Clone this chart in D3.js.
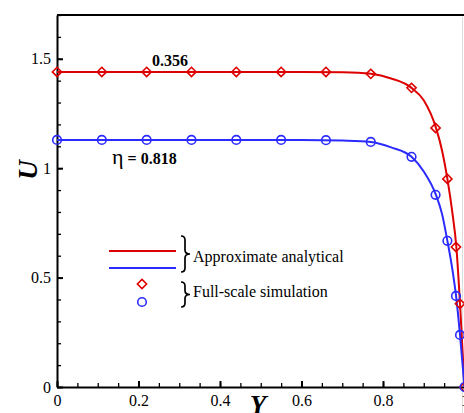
<!DOCTYPE html>
<html lang="en">
<head>
<meta charset="UTF-8">
<title>U vs Y</title>
<script src="https://d3js.org/d3.v7.min.js"></script>
<style>
    body { margin: 0; background: #fff; }
    svg { display: block; font-family: "Liberation Serif", "Times New Roman", serif; }
    .axis path, .axis line { stroke: #000; stroke-width: 2; }
    .axis text { font-size: 16px; fill: #000; font-family: "Liberation Serif", serif; }
    .minor line { stroke-width: 1.3; }
</style>
</head>
<body>
<svg width="464" height="413"></svg>
<script>
    // simulation sample positions (shared by both cases)
    const simY = [0, 0.11, 0.22, 0.33, 0.44, 0.55, 0.66, 0.77, 0.87, 0.929, 0.958, 0.979, 0.989, 1.0];
    const redSim  = [1.44, 1.44, 1.44, 1.44, 1.44, 1.44, 1.44, 1.431, 1.367, 1.184, 0.951, 0.64, 0.38, 0];
    const blueSim = [1.129, 1.129, 1.129, 1.129, 1.129, 1.129, 1.128, 1.12, 1.052, 0.878, 0.668, 0.416, 0.238, 0];

    // analytical curves
    const curveY    = [0, 0.2, 0.4, 0.6, 0.7, 0.77, 0.82, 0.87, 0.9, 0.93, 0.945, 0.958, 0.97, 0.98, 0.989, 1.0];
    const redCurve  = [1.44, 1.44, 1.44, 1.44, 1.438, 1.431, 1.41, 1.367, 1.31, 1.184, 1.08, 0.951, 0.80, 0.64, 0.38, 0];
    const blueCurve = [1.129, 1.129, 1.129, 1.129, 1.126, 1.12, 1.095, 1.052, 0.985, 0.878, 0.79, 0.668, 0.54, 0.405, 0.238, 0];

    const xMajor = [0, 0.2, 0.4, 0.6, 0.8, 1.0];
    const yMajor = [0, 0.5, 1.0, 1.5];

    const red = "#dd0000", blue = "#2b2bff";
    const svg = d3.select("svg");
    const x = d3.scaleLinear().domain([0, 1]).range([57, 464.5]);
    const y = d3.scaleLinear().domain([0, 1.7]).range([387, 15]);

    // frame
    svg.append("line").attr("x1", 57).attr("x2", 464).attr("y1", 15).attr("y2", 15)
        .attr("stroke", "#000").attr("stroke-width", 2);
    svg.append("line").attr("x1", 462.5).attr("x2", 462.5).attr("y1", 17).attr("y2", 413)
        .attr("stroke", "#ddd").attr("stroke-width", 1);

    // minor ticks
    svg.append("g").attr("class", "axis minor").attr("transform", "translate(0,387)")
        .call(d3.axisBottom(x).tickValues(d3.range(0, 21).map(i => i * 0.05)).tickSize(-4).tickFormat(""))
        .select(".domain").remove();
    svg.append("g").attr("class", "axis minor").attr("transform", "translate(57,0)")
        .call(d3.axisLeft(y).tickValues(d3.range(0, 18).map(i => i * 0.1)).tickSize(-4).tickFormat(""))
        .select(".domain").remove();

    // major axes
    svg.append("g").attr("class", "axis").attr("transform", "translate(0,387)")
        .call(d3.axisBottom(x).tickValues(xMajor).tickSize(-6).tickSizeOuter(0).tickPadding(8).tickFormat(d3.format("")));
    svg.append("g").attr("class", "axis").attr("transform", "translate(57,0)")
        .call(d3.axisLeft(y).tickValues(yMajor).tickSize(-6).tickSizeOuter(0).tickPadding(6).tickFormat(d3.format("")));

    // curves
    const line = d3.line().x(d => x(d[0])).y(d => y(d[1])).curve(d3.curveMonotoneX);
    [[redCurve, red], [blueCurve, blue]].forEach(([vals, c]) => {
        svg.append("path").datum(curveY.map((v, i) => [v, vals[i]]))
            .attr("d", line).attr("fill", "none").attr("stroke", c).attr("stroke-width", 2);
    });

    // markers
    const diamond = d3.symbol().type(d3.symbolDiamond2).size(54);
    svg.append("g").selectAll("path").data(simY.map((v, i) => [v, redSim[i]])).join("path")
        .attr("d", diamond).attr("transform", d => `translate(${x(d[0])},${y(d[1])})`)
        .attr("fill", "none").attr("stroke", red).attr("stroke-width", 1.6);
    svg.append("g").selectAll("circle").data(simY.map((v, i) => [v, blueSim[i]])).join("circle")
        .attr("cx", d => x(d[0])).attr("cy", d => y(d[1])).attr("r", 4.3)
        .attr("fill", "none").attr("stroke", blue).attr("stroke-width", 1.6);

    // annotations
    svg.append("text").attr("x", 152).attr("y", 66).attr("font-size", 16).attr("font-weight", "bold").text("0.356");
    const eta = svg.append("text").attr("x", 112).attr("y", 164);
    eta.append("tspan").attr("font-size", 22).text("η");
    eta.append("tspan").attr("font-size", 16).attr("font-weight", "bold").text(" = 0.818");

    // axis titles
    svg.append("text").attr("transform", "translate(37,170) rotate(-90)").attr("text-anchor", "middle")
        .attr("font-size", 27).attr("font-weight", "bold").attr("font-style", "italic").text("U");
    svg.append("text").attr("x", 258).attr("y", 414).attr("text-anchor", "middle")
        .attr("font-size", 27).attr("font-weight", "bold").attr("font-style", "italic").text("Y");

    // legend
    const lg = svg.append("g");
    lg.append("line").attr("x1", 109).attr("x2", 176).attr("y1", 251).attr("y2", 251).attr("stroke", red).attr("stroke-width", 2);
    lg.append("line").attr("x1", 109).attr("x2", 176).attr("y1", 268).attr("y2", 268).attr("stroke", blue).attr("stroke-width", 2);
    lg.append("path").attr("d", diamond).attr("transform", "translate(142,284)")
        .attr("fill", "none").attr("stroke", red).attr("stroke-width", 1.6);
    lg.append("circle").attr("cx", 142).attr("cy", 302).attr("r", 4.3)
        .attr("fill", "none").attr("stroke", blue).attr("stroke-width", 1.6);

    function brace(x0, y1, y2) {
        const ym = (y1 + y2) / 2, x1 = x0 + 4, x2 = x0 + 9;
        return `M${x0},${y1} Q${x1},${y1} ${x1},${y1 + 4} L${x1},${ym - 4} Q${x1},${ym} ${x2},${ym}` +
               ` Q${x1},${ym} ${x1},${ym + 4} L${x1},${y2 - 4} Q${x1},${y2} ${x0},${y2}`;
    }
    lg.append("path").attr("d", brace(181, 236, 272)).attr("fill", "none").attr("stroke", "#000").attr("stroke-width", 1.7);
    lg.append("path").attr("d", brace(181, 282, 307)).attr("fill", "none").attr("stroke", "#000").attr("stroke-width", 1.7);
    lg.append("text").attr("x", 193).attr("y", 262).attr("font-size", 16).text("Approximate analytical");
    lg.append("text").attr("x", 193).attr("y", 297).attr("font-size", 16).text("Full-scale simulation");
</script>
</body>
</html>
